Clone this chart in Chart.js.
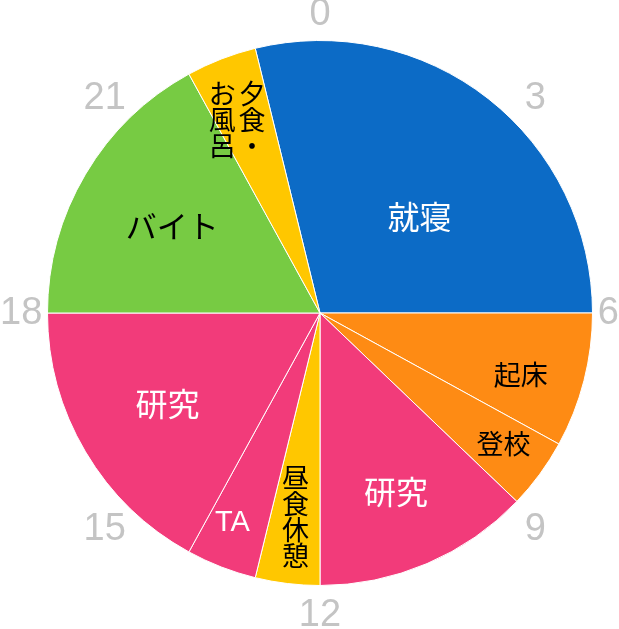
<!DOCTYPE html>
<html>
<head>
<meta charset="utf-8">
<script src="https://cdn.jsdelivr.net/npm/chart.js@4.4.1/dist/chart.umd.min.js"></script>
<style>
    body { margin: 0; background: #fff; }
    #wrap { width: 619px; height: 629px; }
</style>
</head>
<body>
<div id="wrap"><canvas id="dayChart" width="619" height="629"></canvas></div>
<script>
// one day, starting from bedtime, in minutes
const categories = ['就寝', '起床', '登校', '研究', '昼食休憩', 'TA', '研究', 'バイト', '夕食・お風呂'];
const minutes = [415, 115, 60, 185, 55, 60, 245, 245, 60];
const startTime = [23, 5];   // 23:05
const hourTicks = ['0', '3', '6', '9', '12', '15', '18', '21'];
const colors = ['#0C6BC6', '#FE8B14', '#FE8B14', '#F23B7A', '#FFC700', '#F23B7A', '#F23B7A', '#77CB43', '#FFC700'];

// how each slice name is written inside its slice (r = share of radius, hour = where on the dial)
const labelStyle = [
    { color: '#fff', size: 32, r: 0.51, hour: 3.05 },
    { color: '#000', size: 27, r: 0.77, hour: 7.12 },
    { color: '#000', size: 27, r: 0.825, hour: 8.35 },
    { color: '#fff', size: 32, r: 0.71 },
    { color: '#000', size: 27, r: 0.75, cols: ['昼食休憩'] },
    { color: '#fff', size: 29, r: 0.83, hour: 13.52, latin: true },
    { color: '#fff', size: 32, r: 0.65 },
    { color: '#000', size: 31, r: 0.63 },
    { color: '#000', size: 27, r: 0.775, hour: 22.46, cols: ['夕食・', 'お風呂'] }
];

const jpFont = "'Noto Sans CJK JP', sans-serif";
const numFont = "'Liberation Sans', Arial, sans-serif";

const clockLabels = {
    id: 'clockLabels',
    afterDatasetsDraw(chart) {
        const ctx = chart.ctx;
        const arcs = chart.getDatasetMeta(0).data;
        const cx = arcs[0].x, cy = arcs[0].y, R = arcs[0].outerRadius;
        ctx.save();
        ctx.textAlign = 'center';
        ctx.textBaseline = 'middle';

        // hour numbers round the outside, kept inside the canvas
        ctx.fillStyle = '#C4C4C4';
        ctx.font = '38px ' + numFont;
        hourTicks.forEach(t => {
            const a = (Number(t) * 15 - 90) * Math.PI / 180;
            const hw = ctx.measureText(t).width / 2;
            const hh = 14;
            let x = cx + (R + 32) * Math.cos(a);
            let y = cy + (R + 32) * Math.sin(a);
            x = Math.min(Math.max(x, hw), chart.width - hw);
            y = Math.min(Math.max(y, hh), chart.height - hh);
            ctx.fillText(t, x, y + 1);
        });

        // slice names
        arcs.forEach((arc, i) => {
            const st = labelStyle[i];
            let a = (arc.startAngle + arc.endAngle) / 2;
            if (st.hour !== undefined) a = (st.hour * 15 - 90) * Math.PI / 180;
            const lx = cx + R * st.r * Math.cos(a);
            const ly = cy + R * st.r * Math.sin(a) + 1;
            ctx.fillStyle = st.color;
            ctx.font = st.size + 'px ' + (st.latin ? numFont : jpFont);
            if (st.cols) {
                const pitch = st.size * 0.96;
                const gap = st.size * 1.1;
                const rows = Math.max(...st.cols.map(c => c.length));
                st.cols.forEach((col, ci) => {
                    const x = lx + (st.cols.length - 1) / 2 * gap - ci * gap;
                    Array.from(col).forEach((ch, ri) => {
                        ctx.fillText(ch, x, ly - rows * pitch / 2 + pitch / 2 + ri * pitch);
                    });
                });
            } else {
                ctx.fillText(categories[i], lx, ly);
            }
        });
        ctx.restore();
    }
};

new Chart(document.getElementById('dayChart'), {
    type: 'pie',
    data: {
        labels: categories,
        datasets: [{
            data: minutes,
            backgroundColor: colors,
            borderColor: '#ffffff',
            borderWidth: 1
        }]
    },
    options: {
        responsive: false,
        animation: false,
        rotation: (startTime[0] + startTime[1] / 60) * 15,
        layout: {
            padding: { left: 47, right: 26, top: 40, bottom: 43 }
        },
        plugins: {
            legend: { display: false },
            tooltip: { enabled: false }
        }
    },
    plugins: [clockLabels]
});
</script>
</body>
</html>
